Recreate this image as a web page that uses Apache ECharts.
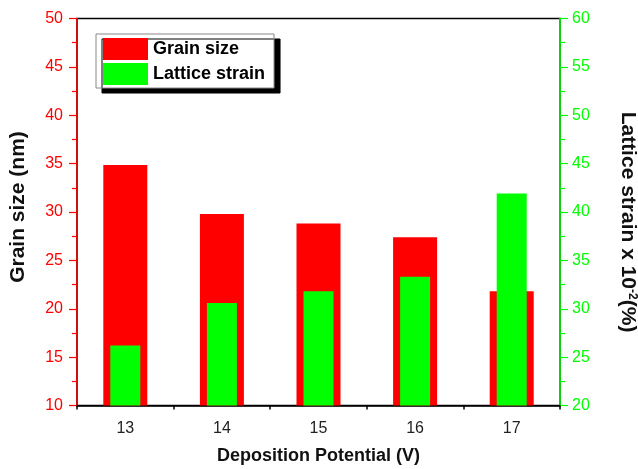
<!DOCTYPE html>
<html>
<head>
<meta charset="utf-8">
<script src="https://cdn.jsdelivr.net/npm/echarts@6/dist/echarts.min.js"></script>
<style>html,body{margin:0;padding:0;background:#fff;}#c{width:638px;height:469px;}</style>
</head>
<body>
<div id="c"></div>
<script>
var categories = ['13', '14', '15', '16', '17'];
var grainSize = [34.85, 29.8, 28.8, 27.4, 21.8];
var latticeStrain = [26.2, 30.6, 31.8, 33.3, 41.9];
var leftTicks = [10, 50, 5];
var rightTicks = [20, 60, 5];

var chart = echarts.init(document.getElementById('c'));
var FONT = 'Liberation Sans, Arial, sans-serif';
chart.setOption({
  animation: false,
  backgroundColor: '#fff',
  grid: { left: 77, right: 78, top: 18.5, bottom: 63.5, outerBoundsMode: 'none', containLabel: false, show: true, borderColor: '#000', borderWidth: 1.5, backgroundColor: 'transparent' },
  legend: {
    orient: 'vertical', left: 96, top: 34, itemWidth: 45, itemHeight: 22, itemGap: 3,
    padding: [4, 9, 3, 7],
    backgroundColor: '#fff', borderColor: '#888', borderWidth: 1,
    shadowColor: '#000', shadowBlur: 0, shadowOffsetX: 6, shadowOffsetY: 5,
    textStyle: { fontFamily: FONT, fontSize: 18, fontWeight: 'bold', color: '#000' },
    data: [{ name: 'Grain size', icon: 'rect' }, { name: 'Lattice strain', icon: 'rect' }]
  },
  xAxis: [{
    type: 'category', data: categories, boundaryGap: true, position: 'bottom',
    axisLine: { lineStyle: { color: '#000', width: 1.5 } },
    axisTick: { alignWithLabel: true, length: 6, lineStyle: { color: '#000', width: 1.5 } },
    axisLabel: { fontFamily: FONT, fontSize: 16, color: '#222', margin: 15 },
    name: 'Deposition Potential (V)', nameLocation: 'middle', nameGap: 42,
    nameTextStyle: { fontFamily: FONT, fontSize: 18, fontWeight: 'bold', color: '#111' }
  }, {
    type: 'category', data: categories, boundaryGap: true, position: 'bottom',
    axisLine: { show: false },
    axisTick: { show: true, length: 4, lineStyle: { color: '#000', width: 1.5 } },
    axisLabel: { show: false }
  }],
  yAxis: [{
    type: 'value', min: leftTicks[0], max: leftTicks[1], interval: leftTicks[2], position: 'left',
    axisLine: { show: true, lineStyle: { color: '#ff0000', width: 1.5 } },
    axisTick: { show: true, inside: false, length: 8, lineStyle: { color: '#ff0000', width: 1.2 } },
    minorTick: { show: true, splitNumber: 2, length: 5, lineStyle: { color: '#ff0000', width: 1.2 } },
    splitLine: { show: false },
    axisLabel: { fontFamily: FONT, fontSize: 16, color: '#ff0000', margin: 14 },
    name: 'Grain size (nm)', nameLocation: 'middle', nameGap: 48, nameRotate: 90,
    nameTextStyle: { fontFamily: FONT, fontSize: 21, fontWeight: 'bold', color: '#111', padding: [0, 0, 0, 10] }
  }, {
    type: 'value', min: rightTicks[0], max: rightTicks[1], interval: rightTicks[2], position: 'right',
    axisLine: { show: true, lineStyle: { color: '#00ff00', width: 1.5 } },
    axisTick: { show: true, inside: false, length: 8, lineStyle: { color: '#00ff00', width: 1.2 } },
    minorTick: { show: true, splitNumber: 2, length: 5, lineStyle: { color: '#00ff00', width: 1.2 } },
    splitLine: { show: false },
    axisLabel: { fontFamily: FONT, fontSize: 16, color: '#00ff00', margin: 12 },
    name: 'Lattice strain x 10{sup|-2}(%)', nameLocation: 'middle', nameGap: 57, nameRotate: -90,
    nameTextStyle: {
      fontFamily: FONT, fontSize: 21, fontWeight: 'bold', color: '#111', padding: [0, 0, 0, 20],
      rich: { sup: { fontFamily: FONT, fontSize: 12, fontWeight: 'bold', color: '#111', verticalAlign: 'top', padding: [0, 0, 9, 0] } }
    }
  }],
  series: [{
    name: 'Grain size', type: 'bar', xAxisIndex: 0, yAxisIndex: 0, data: grainSize,
    barWidth: 44, itemStyle: { color: '#ff0000' }, z: 2
  }, {
    name: 'Lattice strain', type: 'bar', xAxisIndex: 1, yAxisIndex: 1, data: latticeStrain,
    barWidth: 30, itemStyle: { color: '#00ff00' }, z: 3
  }]
});
</script>
</body>
</html>
